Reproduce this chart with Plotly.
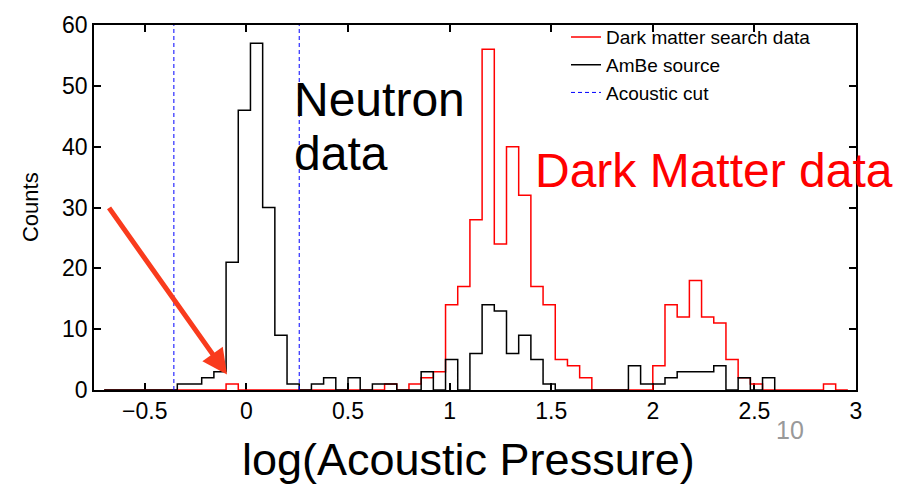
import plotly.graph_objects as go

# ---- data ----
# histogram bin edges (bin width 0.06)
bin_edges = [-0.70, -0.64, -0.58, -0.52, -0.46, -0.40, -0.34, -0.28, -0.22, -0.16,
             -0.10, -0.04, 0.02, 0.08, 0.14, 0.20, 0.26, 0.32, 0.38, 0.44,
             0.50, 0.56, 0.62, 0.68, 0.74, 0.80, 0.86, 0.92, 0.98, 1.04,
             1.10, 1.16, 1.22, 1.28, 1.34, 1.40, 1.46, 1.52, 1.58, 1.64,
             1.70, 1.76, 1.82, 1.88, 1.94, 2.00, 2.06, 2.12, 2.18, 2.24,
             2.30, 2.36, 2.42, 2.48, 2.54, 2.60, 2.66, 2.72, 2.78, 2.84,
             2.90, 2.96]

dm_counts = [0, 0, 0, 0, 0, 0, 0, 0, 0, 0,
             1, 0, 0, 0, 0, 0, 0, 0, 0, 0,
             0, 0, 0, 1, 0, 1, 2, 3, 14, 17,
             28, 56, 24, 40, 32, 17, 14, 5, 4, 2,
             0, 0, 0, 0, 0, 4, 14, 12, 18, 12,
             11, 5, 2, 1, 0, 0, 0, 0, 0, 1,
             0]

ambe_counts = [0, 0, 0, 0, 0, 0, 1, 1, 2, 3,
               21, 46, 57, 30, 9, 1, 0, 1, 2, 0,
               2, 0, 1, 1, 0, 0, 3, 0, 5, 0,
               6, 14, 13, 6, 9, 5, 1, 0, 0, 0,
               0, 0, 0, 4, 1, 1, 2, 3, 3, 3,
               4, 0, 2, 0, 2]

acoustic_cuts = [-0.357, 0.26]

x_ticks = [-0.5, 0, 0.5, 1, 1.5, 2, 2.5, 3]
x_tick_text = ["\u22120.5", "0", "0.5", "1", "1.5", "2", "2.5", "3"]
y_ticks = [0, 10, 20, 30, 40, 50, 60]


def stairs(counts):
    xs = bin_edges[:len(counts) + 1]
    ys = list(counts) + [0]
    return xs, ys


FONT = "Liberation Sans, Arial, sans-serif"

fig = go.Figure()

xr, yr = stairs(dm_counts)
fig.add_trace(go.Scatter(x=xr, y=yr, mode="lines", line_shape="hv",
                         line=dict(color="#ff0000", width=1.5),
                         name="Dark matter search data"))
xb, yb = stairs(ambe_counts)
fig.add_trace(go.Scatter(x=xb, y=yb, mode="lines", line_shape="hv",
                         line=dict(color="#000000", width=1.5),
                         name="AmBe source"))

cx, cy = [], []
for c in acoustic_cuts:
    cx += [c, c, None]
    cy += [0, 60, None]
fig.add_trace(go.Scatter(x=cx, y=cy, mode="lines",
                         line=dict(color="#0000ff", width=1, dash="4px,3px"),
                         name="Acoustic cut"))

W, H = 898, 489
L, R, T, B = 94, 42, 15, 99
PW, PH = W - L - R, H - T - B


def px(xp):
    return (xp - L) / PW


def py(yp):
    return (T + PH - yp) / PH


axis_common = dict(showline=True, linecolor="black", linewidth=1.5,
                   ticks="inside", ticklen=7, tickwidth=1.5, tickcolor="black",
                   mirror="ticks", showgrid=False, zeroline=False,
                   layer="below traces",
                   tickfont=dict(family=FONT, size=23, color="black"))

fig.update_xaxes(range=[-0.75, 3], tickvals=x_ticks, ticktext=x_tick_text,
                 **axis_common)
fig.update_yaxes(range=[0, 60], tickvals=y_ticks, **axis_common)

annotations = [
    dict(text="Neutron", x=px(292), y=py(92), xanchor="left", yanchor="middle",
         font=dict(family=FONT, size=48, color="black")),
    dict(text="data", x=px(292), y=py(147), xanchor="left", yanchor="middle",
         font=dict(family=FONT, size=48, color="black")),
    dict(text="Dark Matter data", x=px(533), y=py(164), xanchor="left",
         yanchor="middle", font=dict(family=FONT, size=48, color="#ff0000")),
    dict(text="log(Acoustic Pressure)", x=px(468), y=py(461), xanchor="center",
         yanchor="middle", font=dict(family=FONT, size=45, color="black")),
    dict(text="Counts", x=px(30), y=py(202), xanchor="center", yanchor="middle",
         textangle=-90, font=dict(family=FONT, size=22, color="black")),
    dict(text="10", x=px(790), y=py(431), xanchor="center", yanchor="middle",
         font=dict(family=FONT, size=25, color="#999999")),
    dict(text="", x=px(227), y=py(374), ax=-119, ay=-168, showarrow=True,
         arrowhead=2, arrowsize=1.0, arrowwidth=5, arrowcolor="#f93b1d",
         standoff=0),
]
for a in annotations:
    a.setdefault("xref", "paper")
    a.setdefault("yref", "paper")
    a.setdefault("showarrow", False)

fig.update_layout(
    width=W, height=H,
    margin=dict(l=L, r=R, t=T, b=B, pad=0),
    paper_bgcolor="white", plot_bgcolor="white",
    font=dict(family=FONT, color="black"),
    annotations=annotations,
    showlegend=True,
    legend=dict(x=px(566), y=py(8), xanchor="left", yanchor="top",
                bgcolor="rgba(0,0,0,0)", borderwidth=0,
                font=dict(family=FONT, size=19, color="black"),
                tracegroupgap=0),
)

fig.write_html("out.html")
